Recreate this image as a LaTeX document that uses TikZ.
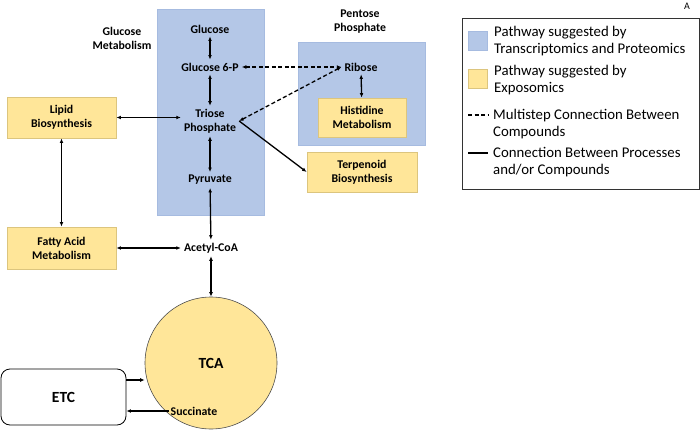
\documentclass[tikz,border=0pt]{standalone}
\usepackage{fontspec}
\setmainfont{Carlito}
\usetikzlibrary{arrows.meta}
\definecolor{pblue}{HTML}{B4C7E7}
\definecolor{pblueb}{HTML}{A6BBE0}
\definecolor{pyel}{HTML}{FFE699}
\definecolor{pyelb}{HTML}{DCC57E}
\tikzset{
  lbl/.style={font=\fontsize{11.8}{14}\selectfont\bfseries, align=center, inner sep=3pt},
  bluebox/.style={fill=pblue, draw=pblueb, line width=0.8pt, inner sep=0pt},
  yelbox/.style={fill=pyel, draw=pyelb, line width=0.8pt, inner sep=0pt, align=center,
    font=\fontsize{11.8}{14}\selectfont\bfseries},
  tip/.tip={Latex[length=4.5pt,width=3.8pt]},
  conn/.style={line width=1.3pt, tip-tip},
  oneway/.style={line width=1.3pt, -tip},
  dconn/.style={conn, dash pattern=on 4pt off 2.5pt},
  legtext/.style={font=\fontsize{14.8}{17}\selectfont, align=left, anchor=west, inner sep=0pt},
}
\begin{document}
\begin{tikzpicture}[x=1pt,y=-1pt]
\useasboundingbox (0,0) rectangle (700,430);
% pathway boxes
\node[bluebox, minimum width=107pt, minimum height=206pt] (glcbox) at (210.5,112) {};
\node[bluebox, minimum width=127pt, minimum height=103pt] (ppbox) at (361.5,93.5) {};
% titles
\node[lbl] (glctitle) at (122,38) {Glucose\\Metabolism};
\node[lbl] (pptitle) at (360,22) {Pentose\\Phosphate};
% compounds
\node[lbl] (glc) at (210,29) {Glucose};
\node[lbl] (g6p) at (210,67) {Glucose 6-P};
\node[lbl] (tri) at (210,121) {Triose\\Phosphate};
\node[lbl] (pyr) at (210,180) {Pyruvate};
\node[lbl] (acoa) at (211,248) {Acetyl-CoA};
\node[lbl] (rib) at (361,67) {Ribose};
% exposomics boxes
\node[yelbox, minimum width=88pt, minimum height=39pt] (his) at (362,117.5) {Histidine\\Metabolism};
\node[yelbox, minimum width=110pt, minimum height=40pt] (terp) at (362,172) {Terpenoid\\Biosynthesis};
\node[yelbox, minimum width=109pt, minimum height=41pt] (lip) at (61.5,117.5) {Lipid\\Biosynthesis};
\node[yelbox, minimum width=109pt, minimum height=42pt] (fat) at (61.5,248) {Fatty Acid\\Metabolism};
% TCA and ETC
\node[circle, fill=pyel, draw=black!70, line width=0.6pt, minimum size=132pt, inner sep=0pt,
  font=\fontsize{15.5}{18}\selectfont\bfseries] (tca) at (211,363) {TCA};
\node[lbl, inner sep=1pt] (succ) at (194,411) {Succinate};
\node[draw=black, line width=0.8pt, rounded corners=9pt, minimum width=125pt, minimum height=56pt,
  inner sep=0pt, font=\fontsize{15.5}{18}\selectfont\bfseries] (etc) at (63.5,397) {ETC};
% connectors
\draw[conn] (glc) -- (g6p);
\draw[conn] (g6p) -- (tri);
\draw[conn] (tri) -- (pyr);
\draw[conn] (pyr) -- (acoa);
\draw[conn] (acoa) -- (tca);
\draw[conn] (lip.east) -- (lip.east -| tri.west);
\draw[conn] (lip) -- (fat);
\draw[conn] (fat) -- (acoa);
\draw[conn] (rib) -- (his);
\draw[dconn] (g6p.east) -- (rib.west);
\draw[dconn] (tri.east) -- (rib.west);
\draw[oneway] (tri.east) -- (terp.west);
\coordinate (etcout) at (etc.east |- 0,380);
\coordinate (tcain) at (tca.west |- 0,380);
\draw[oneway] (etcout) -- (tcain);
\draw[oneway] (succ.west) -- (etc.east |- succ.west);
% legend
\node[draw=black!80, line width=0.8pt, minimum width=237pt, minimum height=171pt, inner sep=0pt] (leg) at (580.5,103.5) {};
\node[font=\fontsize{10}{12}\selectfont, inner sep=0pt] (letter) at (687,6) {A};
\node[fill=pblue, draw=pblueb, line width=0.6pt, minimum size=19pt, inner sep=0pt] (lgblue) at (477.5,40.5) {};
\node[legtext] (lgbluet) at (494,41.5) {Pathway suggested by\\Transcriptomics and Proteomics};
\node[fill=pyel, draw=pyelb, line width=0.6pt, minimum size=19pt, inner sep=0pt] (lgyel) at (477.5,79) {};
\node[legtext] (lgyelt) at (494,80.5) {Pathway suggested by\\Exposomics};
\coordinate (ld1) at (468,115);
\coordinate (ld2) at (488,115);
\draw[line width=1.2pt, dash pattern=on 4pt off 2.5pt] (ld1) -- (ld2);
\node[legtext] (lgdasht) at (493,124) {Multistep Connection Between\\Compounds};
\coordinate (ls1) at (468,153);
\coordinate (ls2) at (488,153);
\draw[line width=1.4pt] (ls1) -- (ls2);
\node[legtext] (lgsolidt) at (493,162) {Connection Between Processes\\and/or Compounds};
\end{tikzpicture}
\end{document}
